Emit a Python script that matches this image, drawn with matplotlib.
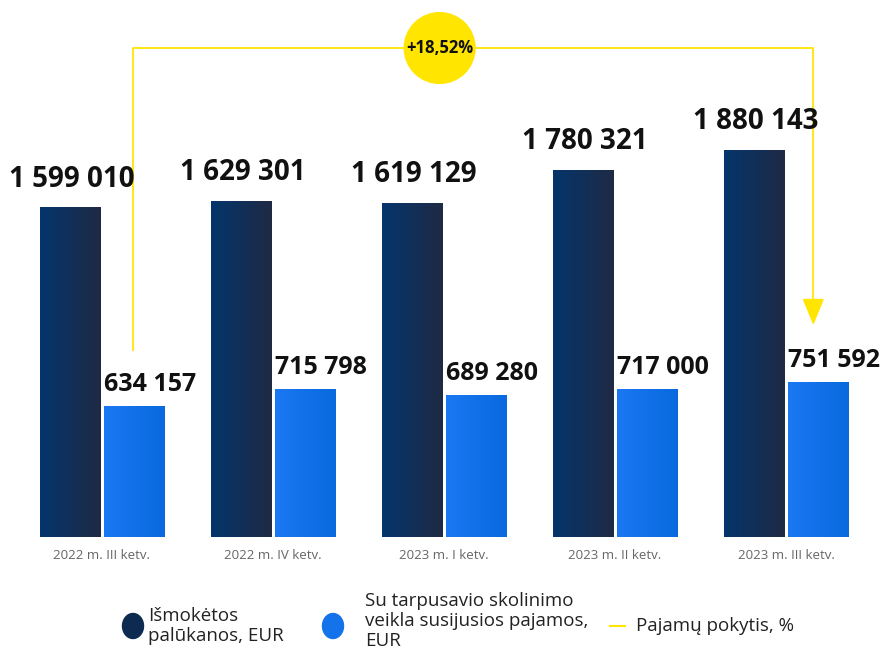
import numpy as np
import matplotlib.pyplot as plt
from matplotlib.colors import LinearSegmentedColormap
from matplotlib.patches import Ellipse

plt.rcParams['font.family'] = ['Open Sans', 'DejaVu Sans']

quarters = ['2022 m. III ketv.', '2022 m. IV ketv.', '2023 m. I ketv.',
            '2023 m. II ketv.', '2023 m. III ketv.']
palukanos = [1599010, 1629301, 1619129, 1780321, 1880143]
pajamos = [634157, 715798, 689280, 717000, 751592]
pokytis = '+18,52%'
legend_labels = ['Išmokėtos\npalūkanos, EUR',
                 'Su tarpusavio skolinimo\nveikla susijusios pajamos,\nEUR',
                 'Pajamų pokytis, %']

dark_cmap = LinearSegmentedColormap.from_list('dark', ['#04356c', '#1f2a45'])
blue_cmap = LinearSegmentedColormap.from_list('blue', ['#1a78f3', '#0969de'])
yellow = '#ffe500'


def fmt(v):
    return f'{v:,}'.replace(',', ' ')


fig = plt.figure(figsize=(8.8, 6.54), dpi=100)
ax = fig.add_axes([0, 0, 1, 1])
ax.axis('off')

x = np.arange(len(quarters))
w = 0.351
off = 0.187
grad = np.linspace(0, 1, 64).reshape(1, -1)

b1 = ax.bar(x - off, palukanos, w, color='none')
b2 = ax.bar(x + off, pajamos, w, color='none')
for bars, cmap in ((b1, dark_cmap), (b2, blue_cmap)):
    for r in bars:
        x0, y0 = r.get_x(), r.get_y()
        ax.imshow(grad, cmap=cmap, aspect='auto', interpolation='bicubic',
                  extent=(x0, x0 + r.get_width(), y0, y0 + r.get_height()),
                  zorder=1)

for i in range(len(x)):
    ax.text(x[i] - off + 0.012, palukanos[i] + 70000, fmt(palukanos[i]),
            ha='center', va='bottom', fontsize=20, fontweight='bold',
            color='#111111')
    ax.text(x[i] + off - w / 2, pajamos[i] + 45000, fmt(pajamos[i]), ha='left',
            va='bottom', fontsize=18, fontweight='bold', color='#111111')
    ax.text(x[i], -92000, quarters[i], ha='center', va='center',
            fontsize=9.5, color='#666666')

# change arrow from first to last quarter
top = 2376000
xs, xe = x[0] + 0.181, x[-1] + 0.16
ax.plot([xs, xs, xe, xe], [908000, top, top, 1120000], color=yellow, lw=1.3,
        zorder=2)
ax.annotate('', xy=(xe, 1030000), xytext=(xe, 1140000),
            arrowprops=dict(arrowstyle='-|>,head_width=0.68,head_length=1.65',
                            color=yellow, lw=1.3, shrinkA=0, shrinkB=0))
ax.scatter([x[2] - 0.025], [top], s=2700, color=yellow, zorder=3,
           edgecolors='none')
ax.text(x[2] - 0.025, top, pokytis, ha='center', va='center', fontsize=12,
        fontweight='bold', color='#111111', zorder=4)

ax.set_xlim(-0.596, 4.55)
ax.set_ylim(-568500, 2609300)

# legend
ly = 1 - 626 / 654
fig.patches.append(Ellipse((133 / 880, ly), 21 / 880, 25 / 654,
                           transform=fig.transFigure, color='#0d2a50'))
fig.text(148 / 880, ly, legend_labels[0], ha='left', va='center',
         fontsize=13.5, color='#222222', linespacing=1.15)
fig.patches.append(Ellipse((333 / 880, ly), 21 / 880, 25 / 654,
                           transform=fig.transFigure, color='#1472ea'))
fig.text(365 / 880, 1 - 621 / 654, legend_labels[1], ha='left', va='center',
         fontsize=13.5, color='#222222', linespacing=1.15)
fig.lines.append(plt.Line2D([610 / 880, 625 / 880], [ly] * 2,
                            transform=fig.transFigure, color=yellow, lw=1.5))
fig.text(636 / 880, ly, legend_labels[2], ha='left', va='center',
         fontsize=13.5, color='#222222')

fig.savefig('out.png', dpi=100)
